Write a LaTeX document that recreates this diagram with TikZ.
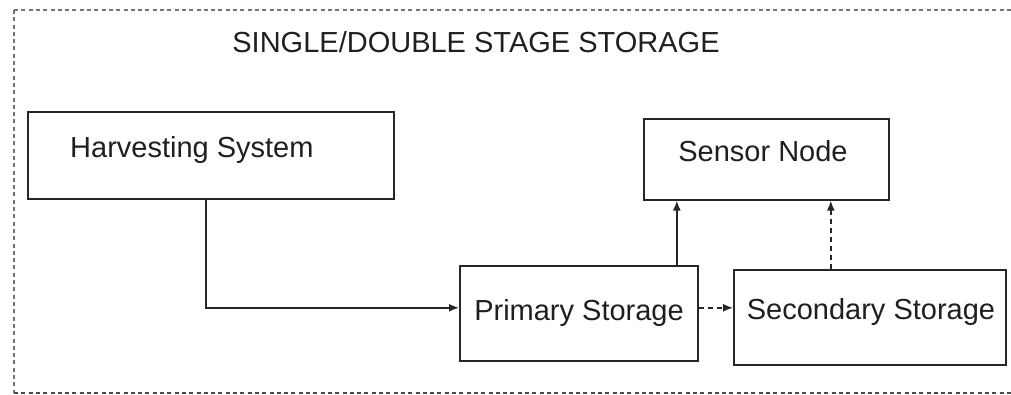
\documentclass[tikz,border=0pt]{standalone}
\usepackage{fontspec}
\setmainfont{Liberation Sans}
\usetikzlibrary{arrows.meta}
\begin{document}
\begin{tikzpicture}[x=1pt,y=-1pt,
  box/.style={draw=black!85, line width=1.6pt, inner sep=0pt, anchor=north west},
  lbl/.style={inner sep=0pt, text=black!88, font=\fontsize{29}{35}\selectfont},
  arr/.style={draw=black!85, line width=1.6pt, -{Latex[length=10pt,width=8pt]}},
  dsh/.style={dash pattern=on 5pt off 4pt}
]
\useasboundingbox (0,0) rectangle (1011,395);
\begin{scope}
\clip (0,0) rectangle (1011,395);
\draw[black!55, line width=2.2pt, dash pattern=on 4pt off 3.3pt] (14,10) -- (1011,10);
\draw[black!55, line width=2.2pt, dash pattern=on 4pt off 3.3pt] (14,10) -- (14,393);
\draw[black!70, line width=2.2pt, dash pattern=on 4pt off 3.3pt] (14,393) -- (1011,393);
\end{scope}
\node[lbl, anchor=base] (title) at (476,53) {SINGLE/DOUBLE STAGE STORAGE};

\node[box, minimum width=366pt, minimum height=87pt] (harv) at (27,111) {};
\node[lbl, anchor=base west] (harvT) at (70,158) {Harvesting System};

\node[box, minimum width=245pt, minimum height=81pt] (sens) at (643,118) {};
\node[lbl, anchor=base] (sensT) at (763,162) {Sensor Node};

\node[box, minimum width=238pt, minimum height=95pt] (prim) at (459,265) {};
\node[lbl, anchor=base] (primT) at (579,320) {Primary Storage};

\node[box, minimum width=272pt, minimum height=95pt] (sec) at (733,269) {};
\node[lbl, anchor=base] (secT) at (871,319) {Secondary Storage};

\draw[arr] ([xshift=-5pt]harv.south) |- ([yshift=5.5pt]prim.west);
\draw[arr] ([xshift=98pt]prim.north) -- ([xshift=98pt]prim.north |- sens.south);
\draw[arr, dsh] ([yshift=5.5pt]prim.east) -- ([yshift=5.5pt]prim.east -| sec.west);
\draw[arr, dsh] ([xshift=-39pt]sec.north) -- ([xshift=-39pt]sec.north |- sens.south);
\end{tikzpicture}
\end{document}
